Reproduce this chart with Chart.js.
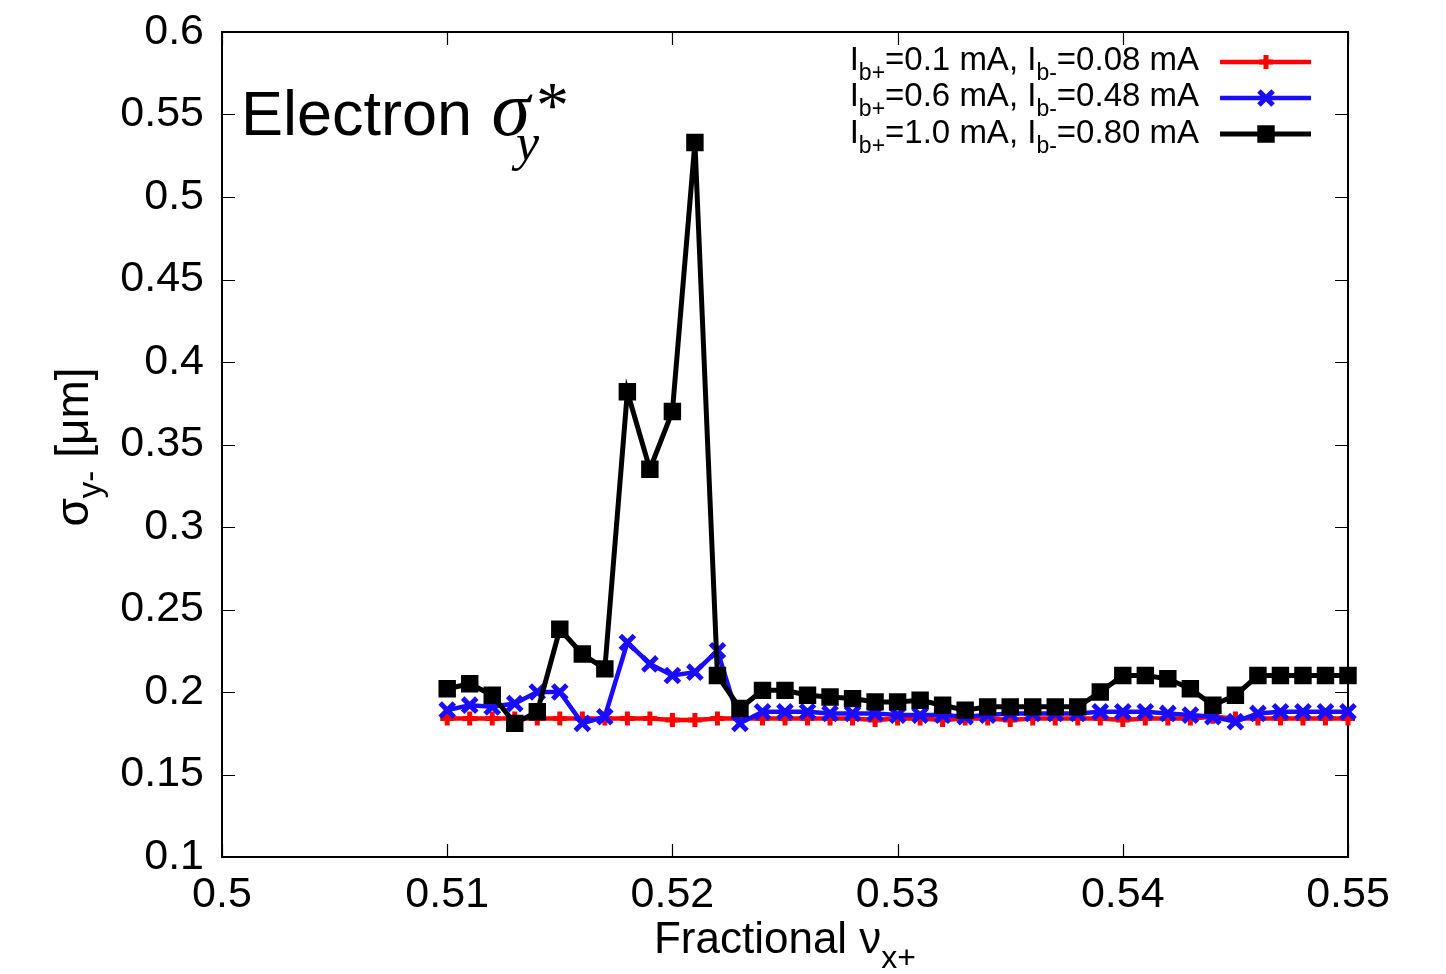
<!DOCTYPE html>
<html>
<head>
<meta charset="utf-8">
<script src="https://cdn.jsdelivr.net/npm/chart.js@4.4.0/dist/chart.umd.min.js"></script>
<style>
html,body{margin:0;padding:0;background:#fff;}
canvas{display:block;}
</style>
</head>
<body>
<canvas id="c" width="1446" height="974"></canvas>
<script>
// ---- data ----
const tunes = [0.510,0.511,0.512,0.513,0.514,0.515,0.516,0.517,0.518,0.519,
               0.520,0.521,0.522,0.523,0.524,0.525,0.526,0.527,0.528,0.529,
               0.530,0.531,0.532,0.533,0.534,0.535,0.536,0.537,0.538,0.539,
               0.540,0.541,0.542,0.543,0.544,0.545,0.546,0.547,0.548,0.549,0.550];
const sigmaLow = [0.184,0.184,0.184,0.184,0.184,0.184,0.184,0.184,0.184,0.184,
                  0.183,0.183,0.184,0.184,0.184,0.184,0.184,0.184,0.184,0.183,
                  0.184,0.184,0.183,0.184,0.184,0.183,0.184,0.184,0.184,0.184,
                  0.183,0.184,0.184,0.184,0.185,0.184,0.184,0.184,0.184,0.184,0.184];
const sigmaMid = [0.189,0.192,0.191,0.193,0.200,0.200,0.181,0.185,0.230,0.217,
                  0.210,0.212,0.225,0.181,0.188,0.188,0.188,0.187,0.187,0.187,
                  0.186,0.186,0.186,0.185,0.186,0.187,0.187,0.187,0.187,0.188,
                  0.188,0.188,0.187,0.186,0.185,0.182,0.187,0.188,0.188,0.188,0.188];
const sigmaHigh = [0.202,0.205,0.198,0.181,0.188,0.238,0.223,0.214,0.382,0.335,
                   0.370,0.533,0.210,0.190,0.201,0.201,0.198,0.197,0.196,0.194,
                   0.194,0.195,0.192,0.189,0.191,0.191,0.191,0.191,0.191,0.200,
                   0.210,0.210,0.208,0.202,0.192,0.198,0.210,0.210,0.210,0.210,0.210];
const xTicks = [0.50,0.51,0.52,0.53,0.54,0.55];
const xTickLabels = ['0.5','0.51','0.52','0.53','0.54','0.55'];
const yTicks = [0.10,0.15,0.20,0.25,0.30,0.35,0.40,0.45,0.50,0.55,0.60];
const yTickLabels = ['0.1','0.15','0.2','0.25','0.3','0.35','0.4','0.45','0.5','0.55','0.6'];
const seriesNames = [
  {main:'I', sub:'b+', mid:'=0.1 mA, I', sub2:'b-', end:'=0.08 mA'},
  {main:'I', sub:'b+', mid:'=0.6 mA, I', sub2:'b-', end:'=0.48 mA'},
  {main:'I', sub:'b+', mid:'=1.0 mA, I', sub2:'b-', end:'=0.80 mA'}
];

const SANS = '"Liberation Sans", Arial, Helvetica, sans-serif';
const SERIF = '"Liberation Serif", "Times New Roman", serif';

function pts(vals){ return tunes.map((x,i)=>({x:x, y:vals[i]})); }

const styles = [
  {color:'#ff0000', pointStyle:'cross', radius:7, lw:4.5, pw:5},
  {color:'#1a0dff', pointStyle:'crossRot', radius:10, lw:4.5, pw:5},
  {color:'#000000', pointStyle:'rect', radius:9.5, lw:5, pw:4}
];
const seriesVals = [sigmaLow, sigmaMid, sigmaHigh];

const datasets = seriesVals.map((v,i)=>({
  label: seriesNames[i].mid,
  data: pts(v),
  borderColor: styles[i].color,
  backgroundColor: styles[i].color,
  borderWidth: styles[i].lw,
  pointStyle: styles[i].pointStyle,
  pointRadius: styles[i].radius,
  pointBorderWidth: styles[i].pw,
  pointBorderColor: styles[i].color,
  pointBackgroundColor: styles[i].color,
  tension: 0,
  clip: false,
  order: 3 - i
}));

function drawRich(ctx, parts, x, y, align){
  let w = 0;
  parts.forEach(p=>{ ctx.font = p.font; p.w = ctx.measureText(p.t).width; w += p.w; });
  let cx = align==='right' ? x - w : (align==='center' ? x - w/2 : x);
  ctx.textAlign = 'left';
  ctx.textBaseline = 'alphabetic';
  parts.forEach(p=>{
    ctx.font = p.font;
    ctx.fillText(p.t, cx, y + (p.dy||0));
    cx += p.w;
  });
  return cx;
}

function drawMarker(ctx, style, x, y){
  ctx.save();
  ctx.strokeStyle = style.color; ctx.fillStyle = style.color; ctx.lineWidth = style.pw;
  const r = style.radius;
  ctx.beginPath();
  if(style.pointStyle==='cross'){
    ctx.moveTo(x-r,y); ctx.lineTo(x+r,y); ctx.moveTo(x,y-r); ctx.lineTo(x,y+r); ctx.stroke();
  } else if(style.pointStyle==='crossRot'){
    const d = r*Math.SQRT1_2;
    ctx.moveTo(x-d,y-d); ctx.lineTo(x+d,y+d); ctx.moveTo(x+d,y-d); ctx.lineTo(x-d,y+d); ctx.stroke();
  } else {
    const s = r*Math.SQRT1_2;
    ctx.rect(x-s,y-s,2*s,2*s); ctx.fill(); ctx.stroke();
  }
  ctx.restore();
}

const framePlugin = {
  id:'frame',
  beforeDatasetsDraw(chart){
    const ctx = chart.ctx, a = chart.chartArea;
    const xs = chart.scales.x, ys = chart.scales.y;
    ctx.save();
    ctx.strokeStyle = '#000'; ctx.lineWidth = 2;
    ctx.strokeRect(a.left, a.top, a.right-a.left, a.bottom-a.top);
    ctx.lineWidth = 1.2;
    const tl = 13;
    ctx.beginPath();
    xTicks.forEach(v=>{
      const px = Math.round(xs.getPixelForValue(v))+0.5;
      ctx.moveTo(px, a.bottom); ctx.lineTo(px, a.bottom - tl);
      ctx.moveTo(px, a.top); ctx.lineTo(px, a.top + tl);
    });
    yTicks.forEach(v=>{
      const py = Math.round(ys.getPixelForValue(v))+0.5;
      ctx.moveTo(a.left, py); ctx.lineTo(a.left + tl, py);
      ctx.moveTo(a.right, py); ctx.lineTo(a.right - tl, py);
    });
    ctx.stroke();
    ctx.restore();
  },
  afterDraw(chart){
    const ctx = chart.ctx, a = chart.chartArea;
    ctx.save();
    ctx.fillStyle = '#000';
    // x axis title
    drawRich(ctx, [
      {t:'Fractional \u03bd', font:'44px '+SANS},
      {t:'x+', font:'32px '+SANS, dy:15}
    ], (a.left+a.right)/2, 953, 'center');
    // y axis title (rotated)
    ctx.save();
    ctx.translate(88, 447);
    ctx.rotate(-Math.PI/2);
    drawRich(ctx, [
      {t:'\u03c3', font:'46px '+SANS},
      {t:'y-', font:'33px '+SANS, dy:13},
      {t:' [\u03bcm]', font:'46px '+SANS}
    ], 0, 0, 'center');
    ctx.restore();
    // annotation
    const ex = drawRich(ctx, [{t:'Electron ', font:'63px '+SANS}], 241, 135, 'left');
    const sx = drawRich(ctx, [{t:'\u03c3', font:'italic 78px '+SERIF}], ex+2, 135, 'left');
    drawRich(ctx, [{t:'y', font:'italic 52px '+SERIF}], sx-14, 160, 'left');
    drawRich(ctx, [{t:'*', font:'66px '+SERIF}], sx+6, 127, 'left');
    // legend
    const rowsY = [70, 106, 143];
    const lineY = [62, 98, 134];
    seriesNames.forEach((n,i)=>{
      ctx.fillStyle = '#000';
      drawRich(ctx, [
        {t:n.main, font:'33px '+SANS},
        {t:n.sub, font:'23px '+SANS, dy:10},
        {t:n.mid, font:'33px '+SANS},
        {t:n.sub2, font:'23px '+SANS, dy:10},
        {t:n.end, font:'33px '+SANS}
      ], 1199, rowsY[i], 'right');
      const st = styles[i];
      ctx.save();
      ctx.strokeStyle = st.color; ctx.lineWidth = st.lw;
      ctx.beginPath(); ctx.moveTo(1220, lineY[i]); ctx.lineTo(1311, lineY[i]); ctx.stroke();
      ctx.restore();
      drawMarker(ctx, st, 1266, lineY[i]);
    });
    ctx.restore();
  }
};

new Chart(document.getElementById('c'), {
  type:'line',
  data:{datasets},
  options:{
    responsive:false,
    devicePixelRatio:1,
    animation:false,
    layout:{padding:{top:32, right:98, left:0, bottom:0}},
    plugins:{legend:{display:false}, tooltip:{enabled:false}},
    scales:{
      x:{
        type:'linear', min:0.5, max:0.55,
        afterBuildTicks(s){ s.ticks = xTicks.map(v=>({value:v})); },
        afterFit(s){ s.height = 117; s.paddingLeft = 0; s.paddingRight = 0; },
        ticks:{
          callback(v){ const i = xTicks.findIndex(t=>Math.abs(t-v)<1e-9); return i>=0 ? xTickLabels[i] : ''; },
          font:{family:SANS, size:43}, color:'#000', padding:12, maxRotation:0, autoSkip:false
        },
        grid:{display:false, drawTicks:false},
        border:{display:false}
      },
      y:{
        type:'linear', min:0.1, max:0.6,
        afterBuildTicks(s){ s.ticks = yTicks.map(v=>({value:v})); },
        afterFit(s){ s.width = 222; s.paddingTop = 0; s.paddingBottom = 0; },
        ticks:{
          callback(v){ const i = yTicks.findIndex(t=>Math.abs(t-v)<1e-9); return i>=0 ? yTickLabels[i] : ''; },
          font:{family:SANS, size:43}, color:'#000', padding:18, autoSkip:false
        },
        grid:{display:false, drawTicks:false},
        border:{display:false}
      }
    }
  },
  plugins:[framePlugin]
});
</script>
</body>
</html>
